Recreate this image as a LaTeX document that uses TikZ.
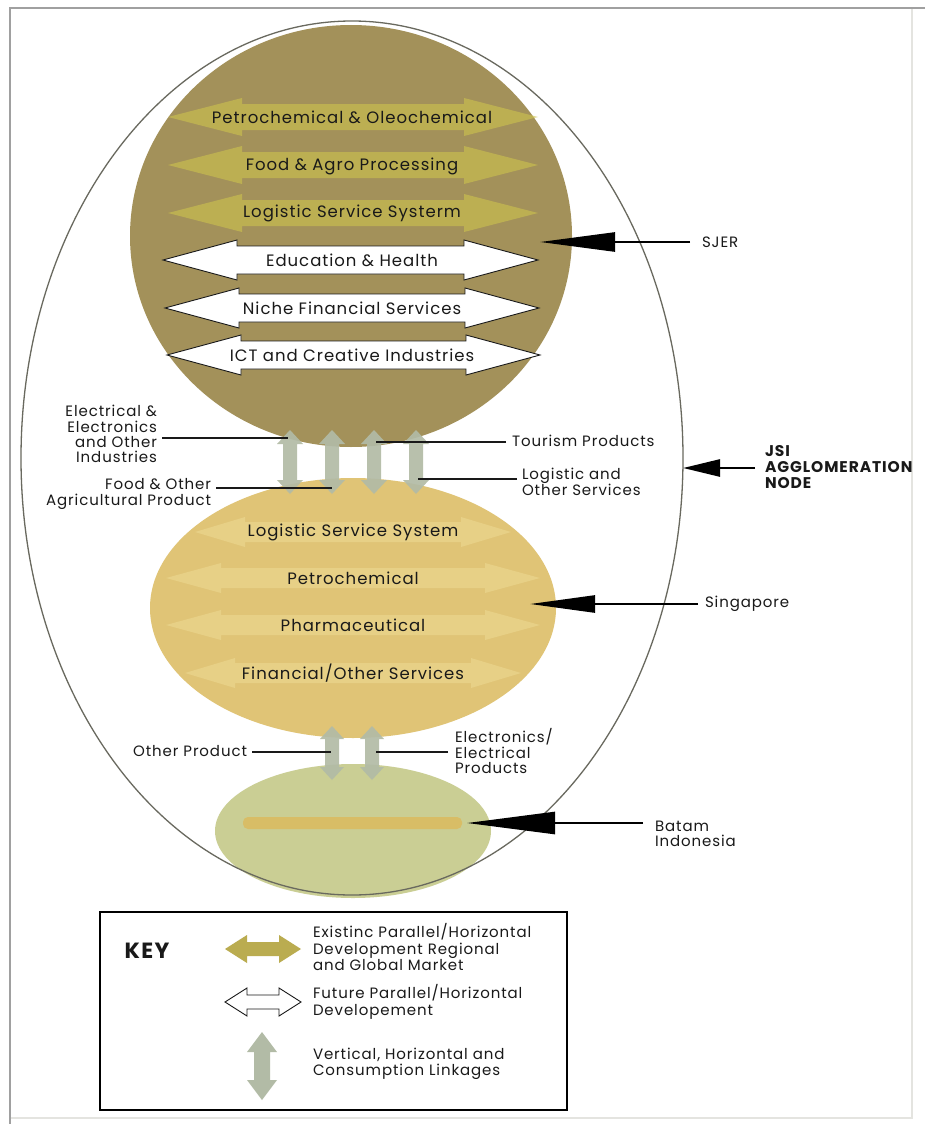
\documentclass[tikz,border=0pt]{standalone}
\usepackage{fontspec}
\setmainfont{Poppins}[LetterSpace=6]
\usetikzlibrary{arrows.meta}
\definecolor{framegray}{RGB}{160,160,160}
\definecolor{framelight}{RGB}{228,228,224}
\definecolor{outerline}{RGB}{105,105,95}
\definecolor{sjerfill}{RGB}{163,145,90}
\definecolor{sjerband}{RGB}{205,195,78}
\definecolor{sgfill}{RGB}{224,196,118}
\definecolor{sgband}{RGB}{238,220,150}
\definecolor{btfill}{RGB}{202,206,148}
\definecolor{btband}{RGB}{226,178,72}
\definecolor{linkfill}{RGB}{178,187,166}
\definecolor{keyolive}{RGB}{186,172,80}
\definecolor{txt}{RGB}{25,25,25}
\newcommand\mainfs{\fontsize{16.5}{17}\selectfont}
\newcommand\smallfs{\fontsize{15}{15.2}\selectfont}
\newcommand\keyfs{\fontsize{15}{16.5}\selectfont}
% style, y, x left tip, x right tip, head length, shaft half height, head half height
\newcommand\hdarrow[7]{\path[#1] (#3,#2) -- (#3+#5,#2-#7) -- (#3+#5,#2-#6) -- (#4-#5,#2-#6) -- (#4-#5,#2-#7) -- (#4,#2) -- (#4-#5,#2+#7) -- (#4-#5,#2+#6) -- (#3+#5,#2+#6) -- (#3+#5,#2+#7) -- cycle;}
% style, x, y top tip, y bottom tip, head length, shaft half width, head half width
\newcommand\vdarrow[7]{\path[#1] (#2,#3) -- (#2+#7,#3+#5) -- (#2+#6,#3+#5) -- (#2+#6,#4-#5) -- (#2+#7,#4-#5) -- (#2,#4) -- (#2-#7,#4-#5) -- (#2-#6,#4-#5) -- (#2-#6,#3+#5) -- (#2-#7,#3+#5) -- cycle;}
\tikzset{
  lbl/.style={inner sep=0pt, outer sep=0pt, text=txt, font=\mainfs},
  slbl/.style={inner sep=0pt, outer sep=0pt, text=txt, font=\smallfs},
  keytext/.style={inner sep=0pt, outer sep=0pt, text=txt, font=\keyfs, align=left, anchor=west},
  leader/.style={draw=txt, line width=1.6pt},
  pointer/.style={draw=black, line width=2.6pt},
  existarrow/.style={fill=sjerband, fill opacity=0.6},
  futurearrow/.style={fill=white, draw=txt, line width=0.9pt},
  sgarrow/.style={fill=sgband, fill opacity=0.5},
  linkarrow/.style={fill=linkfill, fill opacity=0.92},
}
\begin{document}
\begin{tikzpicture}[x=1pt,y=-1pt]
\useasboundingbox (0,0) rectangle (925,1124);
\fill[white] (0,0) rectangle (925,1124);
% frame
\draw[framelight, line width=1.5pt] (912,8) -- (912,1118) -- (10,1118);
\draw[framegray, line width=2pt] (10,1124) -- (10,8) -- (925,8);

% SJER circle
\fill[sjerfill] (351,236) ellipse [x radius=221pt, y radius=211pt];
\hdarrow{existarrow}{117}{168}{538}{74}{13}{19}
\hdarrow{existarrow}{165}{168}{538}{74}{13}{19}
\hdarrow{existarrow}{213}{168}{538}{74}{13}{19}
\hdarrow{futurearrow}{260}{163}{538}{74}{14}{20}
\hdarrow{futurearrow}{308}{165}{539}{74}{14}{20}
\hdarrow{futurearrow}{355}{167}{540}{74}{14}{20}

% Singapore ellipse
\fill[sgfill] (353,608) ellipse [x radius=203pt, y radius=130pt];
\hdarrow{sgarrow}{532}{195}{511}{50}{10}{15}
\hdarrow{sgarrow}{578}{166}{540}{55}{10}{15}
\hdarrow{sgarrow}{625}{166}{540}{55}{10}{15}
\hdarrow{sgarrow}{673}{185}{521}{50}{10}{15}

% Batam ellipse
\fill[btfill] (353,831) ellipse [x radius=138pt, y radius=67pt];
\fill[btband, fill opacity=0.6, rounded corners=5pt] (243,817) rectangle (462,829);

% vertical linkages
\vdarrow{linkarrow}{290}{430}{494}{14}{7}{13}
\vdarrow{linkarrow}{332}{430}{494}{14}{7}{13}
\vdarrow{linkarrow}{374}{430}{494}{14}{7}{13}
\vdarrow{linkarrow}{416}{430}{494}{14}{7}{13}
\vdarrow{linkarrow}{332}{726}{780}{13}{7}{12}
\vdarrow{linkarrow}{372}{726}{780}{13}{7}{12}

% outer JSI ellipse
\draw[outerline, line width=1.3pt] (352,458) ellipse [x radius=331pt, y radius=437pt];

% SJER texts
\node[lbl] (t1) at (352,117) {Petrochemical \& Oleochemical};
\node[lbl] (t2) at (352,166) {Food \& Agro Processing};
\node[lbl] (t3) at (352,213) {Logistic Service Systerm};
\node[lbl] (t4) at (352,260) {Education \& Health};
\node[lbl] (t5) at (352,308) {Niche Financial Services};
\node[lbl] (t6) at (352,355) {ICT and Creative Industries};

% Singapore texts
\node[lbl] (s1) at (353,532) {Logistic Service System};
\node[lbl] (s2) at (353,578) {Petrochemical};
\node[lbl] (s3) at (353,625) {Pharmaceutical};
\node[lbl] (s4) at (353,673) {Financial/Other Services};

% linkage labels
\node[slbl, align=right, anchor=east] (elec) at (157,434) {Electrical \&\\Electronics\\and Other\\Industries};
\node[slbl, align=right, anchor=east] (food) at (211,494) {Food \& Other\\Agricultural Product};
\node[slbl, anchor=west] (tour) at (512,441) {Tourism Products};
\node[slbl, align=left, anchor=west] (logi) at (522,482) {Logistic and\\Other Services};
\node[slbl, anchor=east] (othp) at (247,751) {Other Product};
\node[slbl, align=left, anchor=west] (elprod) at (455,751) {Electronics/\\Electrical\\Products};

\coordinate (elecend) at (288,438);
\coordinate (foodend) at (332,488);
\coordinate (tourend) at (376,442);
\coordinate (logiend) at (418,479);
\coordinate (othpend) at (331,752);
\coordinate (elprodend) at (376,752);
\draw[leader] ([xshift=5pt]elec.east |- elecend) -- (elecend);
\draw[leader] ([xshift=5pt]food.east |- foodend) -- (foodend);
\draw[leader] ([xshift=-6pt]tour.west |- tourend) -- (tourend);
\draw[leader] ([xshift=-5pt]logi.west |- logiend) -- (logiend);
\draw[leader] ([xshift=5pt]othp.east |- othpend) -- (othpend);
\draw[leader] ([xshift=-7pt]elprod.west |- elprodend) -- (elprodend);

% pointer labels
\node[slbl, anchor=west] (sjer) at (702,242) {SJER};
\node[slbl, anchor=west] (sing) at (705,604) {Singapore};
\node[slbl, anchor=west, align=left, font=\fontsize{15.5}{15.8}\selectfont\bfseries] (jsi) at (765,467) {JSI\\AGGLOMERATION\\NODE};
\node[slbl, anchor=west, align=left] (batam) at (655,834) {Batam\\Indonesia};
\coordinate (sjertip) at (540,242);
\coordinate (singtip) at (530,604);
\coordinate (jsitip) at (683,468);
\coordinate (batamtip) at (467,823);
\draw[pointer, -{Triangle[length=75pt,width=19pt]}] ([xshift=-12pt]sjer.west) -- (sjertip);
\draw[pointer, -{Triangle[length=65pt,width=17pt]}] ([xshift=-7pt]sing.west) -- (singtip);
\draw[pointer, -{Triangle[length=37pt,width=17pt]}] ([xshift=-10pt]jsi.west |- jsitip) -- (jsitip);
\draw[pointer, -{Triangle[length=88pt,width=22pt]}] ([xshift=-12pt]batam.west |- batamtip) -- (batamtip);

% key
\draw[black, line width=1.6pt] (100,912) rectangle (567,1110);
\node[inner sep=0pt, text=txt, font=\fontsize{22}{23}\selectfont\bfseries] (key) at (147,951) {KEY};
\hdarrow{fill=keyolive}{949}{225}{301}{22}{7}{14}
\hdarrow{futurearrow}{1002}{225}{301}{22}{7}{14}
\vdarrow{fill=linkfill}{262}{1032}{1100}{20}{8}{15}
\node[keytext] (k1) at (313,947) {Existinc Parallel/Horizontal\\Development Regional\\and Global Market};
\node[keytext] (k2) at (313,1002) {Future Parallel/Horizontal\\Developement};
\node[keytext] (k3) at (313,1064) {Vertical, Horizontal and\\Consumption Linkages};
\end{tikzpicture}
\end{document}
